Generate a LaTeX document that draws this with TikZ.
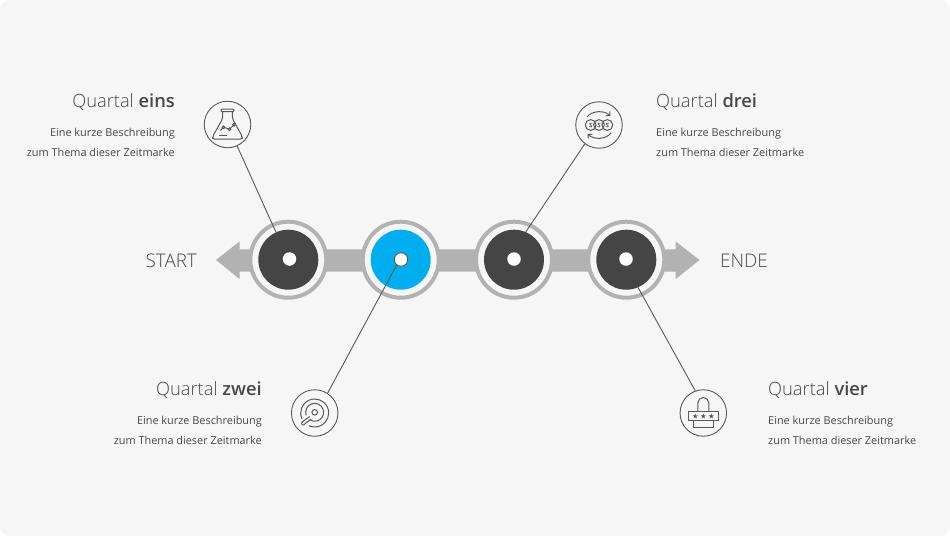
\documentclass[tikz,border=0pt]{standalone}
\usepackage{fontspec}
\setmainfont{Open Sans Light}[BoldFont=Open Sans Semibold]
\newfontfamily\qbody{Open Sans}
\usetikzlibrary{arrows.meta,positioning,shapes.geometric}
\definecolor{qbg}{HTML}{F6F6F6}
\definecolor{qdark}{HTML}{454545}
\definecolor{qgray}{HTML}{B2B2B2}
\definecolor{qblue}{HTML}{00AEEF}
\definecolor{qtext}{HTML}{484848}
\definecolor{qline}{HTML}{595959}
\newcommand{\qhead}[2]{{\fontsize{18.3}{20}\selectfont\color{qtext}#1 \textbf{#2}}}
\tikzset{
  ring/.style={circle,draw=qgray,line width=4pt,fill=qbg,minimum size=76pt,inner sep=0pt},
  disc/.style={circle,fill=qdark,minimum size=60pt,inner sep=0pt},
  dot/.style={circle,fill=white,minimum size=13.5pt,inner sep=0pt},
  dotline/.style={dot,draw=qline,line width=0.9pt},
  icon/.style={circle,draw=qline,line width=0.9pt,fill=qbg,minimum size=46.5pt,inner sep=0pt},
  conn/.style={draw=qline,line width=0.9pt},
  glyph/.style={draw=qline,line width=1pt,line join=round},
  headl/.style={anchor=base east,inner sep=0pt},
  headr/.style={anchor=base west,inner sep=0pt},
  descl/.style={anchor=base east,inner sep=0pt,font=\qbody\fontsize{10.9}{13}\selectfont,text=qtext},
  descr/.style={anchor=base west,inner sep=0pt,font=\qbody\fontsize{10.9}{13}\selectfont,text=qtext},
  tag/.style={inner sep=0pt,font=\fontsize{18.8}{20}\selectfont,text=qtext},
}
\begin{document}
\begin{tikzpicture}[x=1pt,y=-1pt]
  \useasboundingbox (0,0) rectangle (950,536);
  \node[fill=qbg,rounded corners=10pt,minimum width=950pt,minimum height=536pt,inner sep=0pt] (panel) at (475,268) {};
  % timeline
  \fill[qgray] (216,260) -- (239.5,241.5) -- (239.5,249.3) -- (675.7,249.3) -- (675.7,241.5) -- (699.5,260) -- (675.7,279) -- (675.7,271.5) -- (239.5,271.5) -- (239.5,279) -- cycle;
  \node[ring] (ring1) at (288.3,259.7) {};
  \node[ring] (ring2) at (400.7,259.7) {};
  \node[ring] (ring3) at (514,259.7) {};
  \node[ring] (ring4) at (626.3,259.7) {};
  \node[disc] (disc1) at (ring1) {};
  \node[disc,fill=qblue] (disc2) at (ring2) {};
  \node[disc] (disc3) at (ring3) {};
  \node[disc] (disc4) at (ring4) {};
  \node[dot] (dot1) at (289.5,259) {};
  \node[dotline] (dot2) at (401,259.5) {};
  \node[dot] (dot3) at (514,259) {};
  \node[dot] (dot4) at (626,259) {};
  \node[tag,anchor=base east] (start) at (197,267) {START};
  \node[tag,anchor=base west] (ende) at (720,267) {ENDE};
  % icons
  \node[icon] (icon1) at (227.5,124.5) {};
  \node[icon] (icon2) at (314.7,413) {};
  \node[icon] (icon3) at (599,125) {};
  \node[icon] (icon4) at (703.3,413) {};
  \draw[conn] (icon1) -- (disc1);
  \draw[conn] (icon2.57) -- (dot2.232);
  \draw[conn] (icon3.233) -- (disc3.67);
  \draw[conn] (icon4.110) -- (disc4.293);
  % flask
  \begin{scope}[shift={(icon1)}]
    \draw[glyph,rounded corners=1pt] (-6.5,-15.5) rectangle (6.5,-12.8);
    \draw[glyph,rounded corners=2pt] (-4.8,-12.8) -- (-4.8,-6) -- (-14.8,12) -- (-14.8,14.6) -- (14.8,14.6) -- (14.8,12) -- (4.8,-6) -- (4.8,-12.8);
    \draw[glyph] (-7,6) -- (-4,2.7) -- (2,4.7) -- (6.5,0.3) -- (8,-1);
    \foreach \px/\py in {-4/2.7,2/4.7,6.5/0.3}
      \draw[glyph,fill=qbg] (\px,\py) circle (1.4pt);
    \draw[glyph] (-8.5,10.5) -- (-1,10.5);
  \end{scope}
  % coins
  \begin{scope}[shift={(icon3)}]
    \foreach \px in {-8.3,0,8.3} {
      \draw[glyph] (\px,0) circle (5.4pt);
      \draw[glyph,line width=0.7pt] (\px+1.6,-1.6) .. controls (\px,-3) and (\px-2.4,-1.6) .. (\px,0) .. controls (\px+2.4,1.6) and (\px,3) .. (\px-1.6,1.6);
    }
    \draw[glyph,-{Straight Barb[length=3pt,width=6pt]}] (-12,-8) .. controls (-7,-14.5) and (5,-15) .. (11.5,-9);
    \draw[glyph,-{Straight Barb[length=3pt,width=6pt]}] (12,8) .. controls (7,14.5) and (-5,15) .. (-11.5,9);
  \end{scope}
  % disk with key
  \begin{scope}[shift={(icon2)}]
    \draw[glyph] (-12.7,5.9) arc[start angle=205,end angle=-115,radius=14pt];
    \draw[glyph] (-8.5,2.4) arc[start angle=200,end angle=-125,radius=9pt];
    \draw[glyph] (0,-0.7) circle (2.8pt);
    \draw[glyph,rounded corners=0.8pt] (-5,3.5) -- (-12,8.5) -- (-13.5,10.5) -- (-11.5,12.5) -- (-9.5,10.5) -- (-3.5,6);
  \end{scope}
  % lock
  \begin{scope}[shift={(icon4)}]
    \draw[glyph] (-5.5,-1.3) -- (-5.5,-10) arc[start angle=180,end angle=0,radius=5.5pt] -- (5.5,-1.3);
    \draw[glyph] (-14.7,-1.3) rectangle (14.7,7.7);
    \draw[glyph] (-10,7.7) -- (-10,14.3) -- (10,14.3) -- (10,7.7);
    \foreach \px [count=\ix] in {-8,0,8}
      \node[star,star points=5,star point ratio=2.4,fill=qline,inner sep=0pt,minimum size=5.4pt] (star\ix) at (\px,3.2) {};
  \end{scope}
  % labels
  \node[headl] (head1) at (175,107) {\qhead{Quartal}{eins}};
  \node[descl] (desca1) at (175,136.5) {Eine kurze Beschreibung};
  \node[descl] (descb1) at (175,156.5) {zum Thema dieser Zeitmarke};
  \node[headl] (head2) at (262,395) {\qhead{Quartal}{zwei}};
  \node[descl] (desca2) at (262,424.5) {Eine kurze Beschreibung};
  \node[descl] (descb2) at (262,444.5) {zum Thema dieser Zeitmarke};
  \node[headr] (head3) at (656,107) {\qhead{Quartal}{drei}};
  \node[descr] (desca3) at (656,136.5) {Eine kurze Beschreibung};
  \node[descr] (descb3) at (656,156.5) {zum Thema dieser Zeitmarke};
  \node[headr] (head4) at (768,395) {\qhead{Quartal}{vier}};
  \node[descr] (desca4) at (768,424.5) {Eine kurze Beschreibung};
  \node[descr] (descb4) at (768,444.5) {zum Thema dieser Zeitmarke};
\end{tikzpicture}
\end{document}
